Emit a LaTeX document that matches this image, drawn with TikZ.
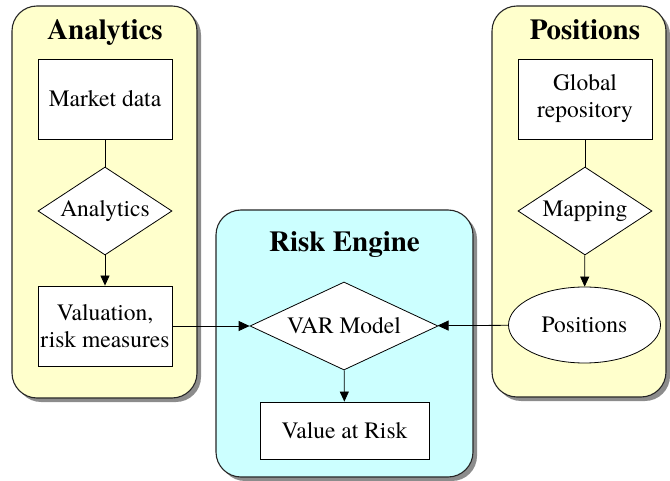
\documentclass[tikz,border=0pt]{standalone}
\usepackage{fontspec}
\setmainfont{texgyretermes}[Extension=.otf, UprightFont=*-regular, BoldFont=*-bold, ItalicFont=*-italic, BoldItalicFont=*-bolditalic]
\usetikzlibrary{positioning, arrows.meta, shapes.geometric, shadows}
\definecolor{paleyellow}{RGB}{255, 255, 204}
\definecolor{palecyan}{RGB}{204, 255, 255}
\tikzset{
  panel/.style={
    draw=black!85, line width=1.1pt,
    rounded corners=25pt, inner sep=0pt,
    drop shadow={shadow xshift=4pt, shadow yshift=-4pt, fill=black!45, opacity=1}
  },
  stepbox/.style={
    draw, line width=0.8pt, fill=white,
    minimum width=134pt, minimum height=80pt,
    inner sep=0pt, align=center,
    font=\fontsize{23.5}{27}\selectfont
  },
  decision/.style={
    diamond, draw, line width=0.8pt, fill=white,
    minimum width=134pt, minimum height=88pt,
    inner sep=0pt, aspect=1.5,
    font=\fontsize{23.5}{27}\selectfont
  },
  store/.style={
    ellipse, draw, line width=0.8pt, fill=white,
    minimum width=152pt, minimum height=76pt,
    inner sep=0pt,
    font=\fontsize{23.5}{27}\selectfont
  },
  paneltitle/.style={font=\bfseries\fontsize{29}{33}\selectfont, anchor=base},
  flow/.style={-{Triangle[length=10pt, width=9pt]}, line width=0.8pt},
  link/.style={line width=0.8pt}
}

\begin{document}
\begin{tikzpicture}[x=1pt, y=-1pt]

\path[use as bounding box] (0,0) rectangle (670,481);

% Panels
\node[panel, fill=paleyellow, minimum width=185pt, minimum height=392pt] (anapanel) at (104.5, 202) {};
\node[panel, fill=palecyan, minimum width=257pt, minimum height=267pt] (riskpanel) at (344.5, 343.5) {};
\node[panel, fill=paleyellow, minimum width=174pt, minimum height=391pt] (pospanel) at (579, 201.5) {};

\node[paneltitle] (anatitle) at (105, 40) {Analytics};
\node[paneltitle] (risktitle) at (344.5, 252) {Risk Engine};
\node[paneltitle] (postitle) at (585, 40) {Positions};

% Analytics column
\node[stepbox] (mkt) at (105, 99) {Market data};
\node[decision] (anadiam) at (105, 211) {Analytics};
\node[stepbox] (valbox) at (105, 326) {Valuation,\\risk measures};

% Positions column
\node[stepbox] (glob) at (585, 99) {Global\\repository};
\node[decision] (mapdiam) at (585, 211) {Mapping};
\node[store] (posell) at (584.5, 325) {Positions};

% Risk engine
\node[decision, minimum width=188pt, minimum height=88pt, aspect=2.1] (vardiam) at (344, 326) {VAR Model};
\node[stepbox, minimum width=169pt, minimum height=57pt] (varbox) at (344.5, 430.5) {Value at Risk};

% Connections
\draw[link] (mkt) -- (anadiam);
\draw[flow] (anadiam) -- (valbox);
\draw[link] (glob) -- (mapdiam);
\draw[flow] (mapdiam) -- (posell);
\draw[flow, -{Triangle[length=11pt, width=10pt]}] (valbox) -- (vardiam);
\draw[flow, -{Triangle[length=11pt, width=10pt]}] (posell) -- (vardiam);
\draw[flow] (vardiam) -- (varbox);

\end{tikzpicture}
\end{document}
